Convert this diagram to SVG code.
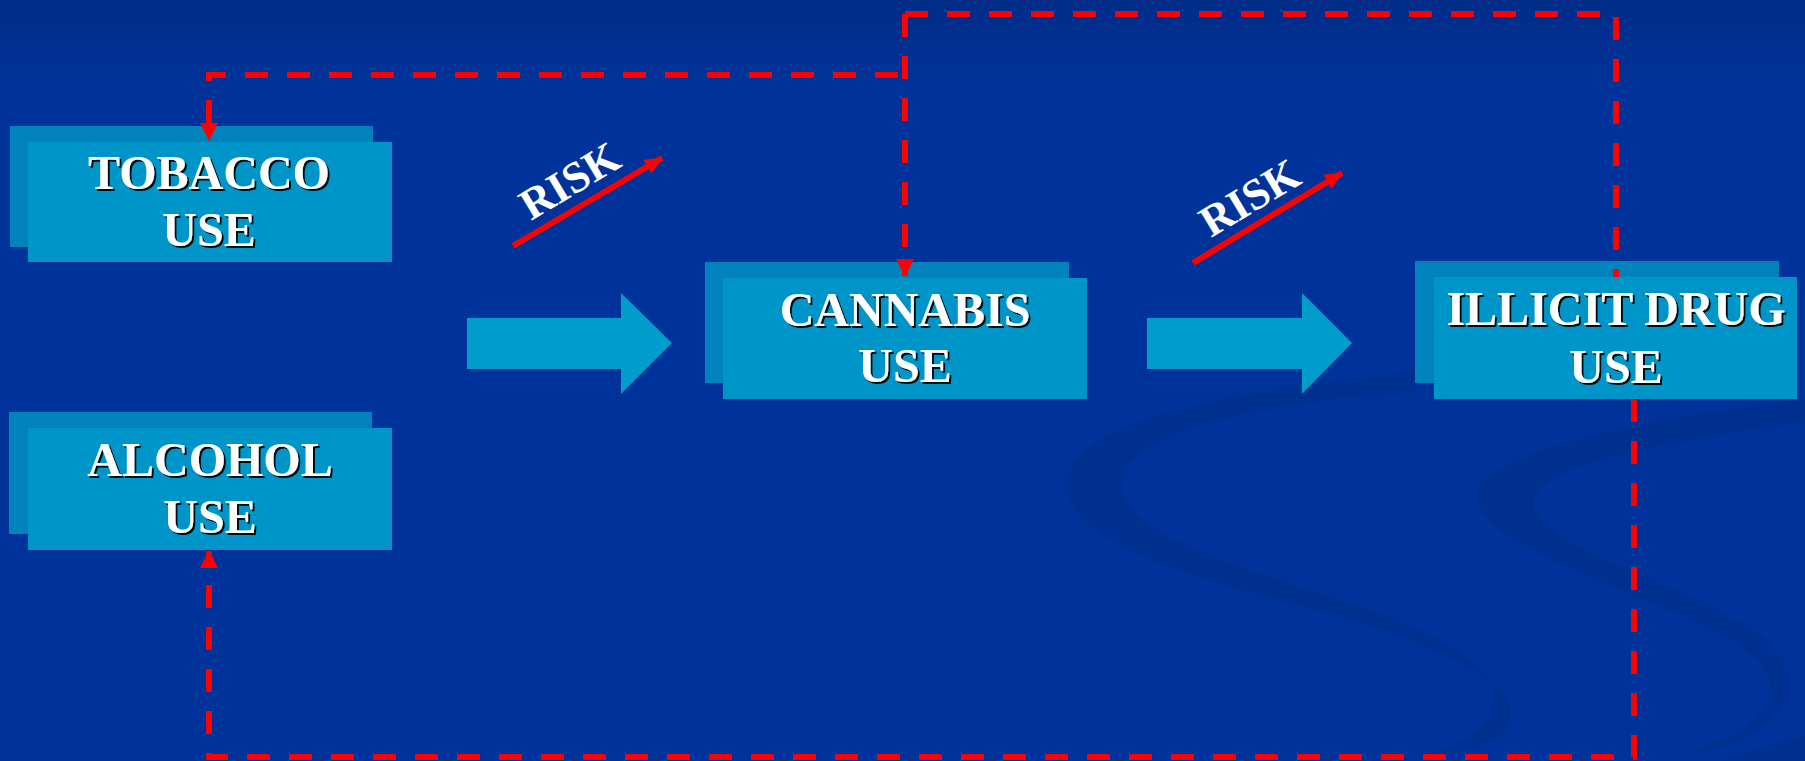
<svg xmlns="http://www.w3.org/2000/svg" width="1805" height="761" viewBox="0 0 1805 761">
<defs>
<linearGradient id="bg" x1="0" y1="0" x2="0" y2="1">
<stop offset="0" stop-color="#002c88"/>
<stop offset="0.12" stop-color="#003399"/>
<stop offset="1" stop-color="#003399"/>
</linearGradient>
<filter id="sh" x="-10%" y="-10%" width="130%" height="130%">
<feDropShadow dx="2" dy="2" stdDeviation="0.4" flood-color="#000" flood-opacity="0.9"/>
</filter>
<marker id="ah" markerUnits="userSpaceOnUse" markerWidth="18" markerHeight="18" viewBox="0 0 18 18" refX="17" refY="9" orient="auto">
<path d="M0,0 L18,9 L0,18 Z" fill="#ff0000"/>
</marker>
<marker id="rh" markerUnits="userSpaceOnUse" markerWidth="18" markerHeight="16" viewBox="0 0 18 16" refX="17" refY="8" orient="auto">
<path d="M0,0 L18,8 L0,16 Z" fill="#ff0000"/>
</marker>
</defs>
<style>
.back{fill:#0083bd}
.front{fill:#0095c8}
.lbl{font-family:"Liberation Serif","Times New Roman",serif;font-weight:bold;font-size:48px;fill:#ffffff;text-anchor:middle;filter:url(#sh)}
.risk{font-family:"Liberation Serif","Times New Roman",serif;font-weight:bold;font-size:44px;fill:#ffffff}
.big{fill:#009ccc}
.dash{fill:none;stroke:#ff0000;stroke-width:6;stroke-dasharray:23 19}
.rline{stroke:#ff0000;stroke-width:6;fill:none}
.swoosh{fill:#00308f}
</style>
<rect x="0" y="0" width="1805" height="761" fill="url(#bg)"/>
<g id="background-swooshes">
<path class="swoosh" d="M1416,372 C1250,388 1080,418 1068,478 C1056,542 1200,580 1330,614 C1450,648 1532,690 1506,730 C1490,752 1430,758 1360,761 L1400,761 C1455,752 1492,730 1494,700 C1497,660 1420,626 1330,596 C1220,560 1118,530 1122,482 C1126,430 1265,402 1416,392 Z"/>
<path class="swoosh" d="M1805,398 C1650,418 1490,450 1478,492 C1470,542 1620,584 1722,634 C1797,674 1787,722 1690,752 L1715,750 C1797,722 1805,680 1764,638 C1688,580 1528,548 1534,500 C1540,462 1685,440 1805,422 Z"/>
<path class="swoosh" d="M1720,761 C1760,748 1790,740 1805,735 L1805,761 Z"/>
</g>
<g id="arrow-1">
<path class="big" d="M467,318 H621 V293 L672,343 L621,394 V369 H467 Z"/>
</g>
<g id="arrow-2">
<path class="big" d="M1147,318 H1302 V293 L1352,343 L1302,394 V369 H1147 Z"/>
</g>
<g id="risk-1">
<line class="rline" x1="513" y1="246" x2="662" y2="158" marker-end="url(#rh)"/>
<text class="risk" transform="translate(531,221) rotate(-31)">RISK</text>
</g>
<g id="risk-2">
<line class="rline" x1="1193" y1="263" x2="1342" y2="173" marker-end="url(#rh)"/>
<text class="risk" transform="translate(1211,238) rotate(-31)">RISK</text>
</g>
<g id="tobacco">
<rect class="back" x="10" y="126" width="363" height="121"/>
<rect class="front" x="28" y="142" width="364" height="120"/>
<text class="lbl" x="209" y="189">TOBACCO</text>
<text class="lbl" x="209" y="246">USE</text>
</g>
<g id="alcohol">
<rect class="back" x="9" y="412" width="363" height="122"/>
<rect class="front" x="28" y="428" width="364" height="122"/>
<text class="lbl" x="210" y="476">ALCOHOL</text>
<text class="lbl" x="210" y="533">USE</text>
</g>
<g id="cannabis">
<rect class="back" x="705" y="262" width="364" height="121"/>
<rect class="front" x="723" y="278" width="364" height="121"/>
<text class="lbl" x="905" y="326">CANNABIS</text>
<text class="lbl" x="905" y="382">USE</text>
</g>
<g id="illicit">
<rect class="back" x="1415" y="261" width="364" height="122"/>
<rect class="front" x="1434" y="277" width="363" height="122"/>
<text class="lbl" x="1616" y="325">ILLICIT DRUG</text>
<text class="lbl" x="1616" y="383">USE</text>
</g>
<g id="connectors">
<path class="dash" d="M905,14 H1616 V277"/>
<path class="dash" d="M905,14 V276" marker-end="url(#ah)"/>
<path class="dash" d="M898,75 H209 V140" marker-end="url(#ah)"/>
<path class="dash" d="M1634,399 V757 H209 V551" marker-end="url(#ah)"/>
</g>
</svg>
